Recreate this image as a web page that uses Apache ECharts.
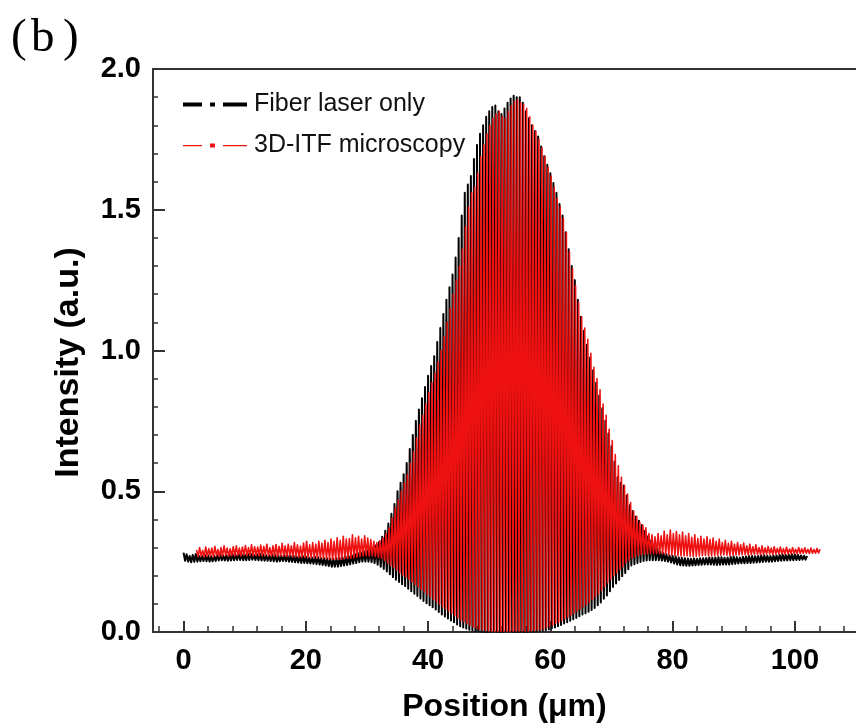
<!DOCTYPE html>
<html><head><meta charset="utf-8">
<script src="https://cdn.jsdelivr.net/npm/echarts@6/dist/echarts.min.js"></script>
<style>html,body{margin:0;padding:0;background:#fff}#c{width:856px;height:728px}</style>
</head><body><div id="c"></div><script>
// ---- data ----
// Fiber laser only: fringe maxima at x = 0, 0.5, ..., 102 µm ; minima halfway between
const blackStart = 0;
const fringePeriod = 0.5;
const blackPeaks = [
 0.282,0.276,0.270,0.274,0.277,0.271,0.270,0.274,0.273,0.269,
 0.270,0.274,0.276,0.272,0.273,0.276,0.277,0.274,0.279,0.276,
 0.275,0.279,0.278,0.274,0.276,0.278,0.275,0.273,0.272,0.275,
 0.274,0.271,0.270,0.273,0.272,0.270,0.270,0.268,0.268,0.270,
 0.268,0.265,0.265,0.267,0.266,0.263,0.262,0.261,0.260,0.259,
 0.262,0.263,0.265,0.268,0.270,0.274,0.278,0.281,0.283,0.286,
 0.290,0.294,0.300,0.308,0.320,0.338,0.360,0.385,0.420,0.455,
 0.500,0.530,0.560,0.600,0.650,0.700,0.750,0.790,0.830,0.870,
 0.910,0.945,0.980,1.030,1.080,1.130,1.180,1.225,1.270,1.330,
 1.400,1.480,1.560,1.590,1.620,1.680,1.730,1.770,1.800,1.830,
 1.850,1.865,1.870,1.850,1.840,1.860,1.880,1.895,1.905,1.900,
 1.900,1.880,1.850,1.825,1.800,1.780,1.760,1.725,1.690,1.660,
 1.630,1.595,1.560,1.520,1.480,1.420,1.360,1.300,1.250,1.180,
 1.120,1.070,1.020,0.975,0.930,0.885,0.840,0.795,0.750,0.705,
 0.660,0.605,0.550,0.530,0.520,0.485,0.450,0.430,0.410,0.395,
 0.380,0.360,0.340,0.325,0.310,0.297,0.285,0.280,0.275,0.272,
 0.270,0.268,0.265,0.264,0.262,0.261,0.260,0.261,0.260,0.262,
 0.262,0.263,0.265,0.264,0.265,0.266,0.266,0.264,0.265,0.267,
 0.268,0.266,0.265,0.267,0.268,0.270,0.270,0.269,0.270,0.272,
 0.272,0.271,0.270,0.272,0.272,0.274,0.275,0.274,0.275,0.276,
 0.275,0.274,0.272,0.271,0.270
];
const blackTroughs = [
 0.253,0.250,0.248,0.249,0.250,0.251,0.252,0.251,0.250,0.251,
 0.252,0.254,0.255,0.254,0.253,0.254,0.255,0.256,0.256,0.255,
 0.255,0.256,0.257,0.256,0.255,0.254,0.253,0.253,0.252,0.251,
 0.250,0.251,0.252,0.251,0.250,0.249,0.248,0.247,0.245,0.245,
 0.244,0.243,0.242,0.241,0.240,0.238,0.236,0.234,0.232,0.232,
 0.232,0.234,0.236,0.238,0.240,0.243,0.245,0.248,0.250,0.250,
 0.250,0.248,0.245,0.239,0.232,0.224,0.215,0.205,0.195,0.186,
 0.178,0.170,0.163,0.154,0.145,0.136,0.128,0.119,0.110,0.102,
 0.095,0.088,0.080,0.071,0.062,0.055,0.048,0.041,0.035,0.027,
 0.020,0.016,0.012,0.008,0.005,0.003,0.002,0.001,0.000,0.000,
 0.000,0.001,0.001,0.000,0.000,0.002,0.002,0.001,0.000,0.000,
 0.001,0.000,0.000,0.001,0.002,0.002,0.003,0.004,0.006,0.009,
 0.013,0.016,0.020,0.025,0.030,0.035,0.040,0.045,0.050,0.056,
 0.062,0.067,0.072,0.078,0.085,0.095,0.105,0.118,0.130,0.145,
 0.160,0.172,0.185,0.198,0.210,0.223,0.236,0.241,0.245,0.249,
 0.252,0.254,0.255,0.255,0.255,0.255,0.254,0.252,0.250,0.247,
 0.243,0.240,0.237,0.236,0.235,0.235,0.236,0.237,0.238,0.239,
 0.240,0.240,0.240,0.239,0.238,0.239,0.240,0.240,0.240,0.241,
 0.242,0.243,0.244,0.244,0.245,0.245,0.246,0.247,0.248,0.249,
 0.250,0.250,0.250,0.251,0.252,0.253,0.254,0.254,0.255,0.255,
 0.256,0.256,0.257,0.257
];
// 3D-ITF microscopy: fringe maxima at x = 2.125, 2.625, ..., 104.125 µm ; minima halfway between
const redStart = 2.125;
const redPeaks = [
 0.292,0.300,0.290,0.302,0.296,0.298,0.304,0.293,0.300,0.306,
 0.298,0.296,0.303,0.306,0.298,0.302,0.307,0.300,0.310,0.303,
 0.302,0.309,0.304,0.312,0.300,0.306,0.311,0.304,0.315,0.306,
 0.312,0.306,0.318,0.310,0.305,0.316,0.322,0.310,0.318,0.312,
 0.322,0.315,0.326,0.318,0.330,0.322,0.335,0.326,0.340,0.330,
 0.332,0.345,0.335,0.340,0.330,0.342,0.334,0.328,0.322,0.318,
 0.325,0.335,0.350,0.370,0.405,0.440,0.470,0.500,0.530,0.560,
 0.600,0.640,0.690,0.735,0.770,0.810,0.850,0.885,0.920,0.960,
 1.000,1.050,1.100,1.150,1.200,1.250,1.300,1.360,1.440,1.510,
 1.560,1.580,1.630,1.690,1.730,1.770,1.800,1.825,1.840,1.850,
 1.830,1.825,1.850,1.870,1.885,1.890,1.880,1.875,1.860,1.830,
 1.800,1.780,1.750,1.720,1.690,1.650,1.620,1.580,1.540,1.510,
 1.470,1.420,1.350,1.290,1.230,1.170,1.120,1.080,1.040,0.990,
 0.940,0.900,0.860,0.810,0.770,0.720,0.680,0.630,0.590,0.550,
 0.520,0.490,0.460,0.430,0.410,0.390,0.380,0.370,0.350,0.345,
 0.338,0.350,0.342,0.358,0.345,0.362,0.350,0.357,0.345,0.355,
 0.342,0.350,0.336,0.345,0.332,0.340,0.330,0.338,0.328,0.334,
 0.322,0.330,0.318,0.326,0.315,0.322,0.312,0.318,0.310,0.316,
 0.306,0.312,0.303,0.310,0.300,0.306,0.299,0.304,0.298,0.303,
 0.297,0.302,0.296,0.301,0.295,0.300,0.294,0.300,0.296,0.299,
 0.294,0.298,0.293,0.297,0.294
];
const redTroughs = [
 0.268,0.270,0.266,0.269,0.270,0.267,0.271,0.268,0.270,0.272,
 0.269,0.271,0.270,0.272,0.270,0.273,0.271,0.272,0.270,0.272,
 0.271,0.270,0.272,0.271,0.269,0.270,0.268,0.270,0.269,0.268,
 0.270,0.267,0.268,0.266,0.266,0.265,0.265,0.264,0.264,0.263,
 0.262,0.262,0.260,0.259,0.258,0.258,0.258,0.259,0.260,0.261,
 0.262,0.264,0.266,0.268,0.270,0.271,0.270,0.270,0.268,0.266,
 0.262,0.254,0.245,0.236,0.228,0.219,0.210,0.203,0.195,0.186,
 0.178,0.169,0.160,0.151,0.142,0.133,0.125,0.116,0.108,0.099,
 0.090,0.082,0.075,0.066,0.058,0.050,0.042,0.036,0.030,0.024,
 0.018,0.014,0.010,0.007,0.005,0.004,0.003,0.002,0.002,0.002,
 0.003,0.002,0.002,0.003,0.003,0.004,0.004,0.003,0.003,0.004,
 0.005,0.006,0.008,0.011,0.015,0.020,0.025,0.030,0.035,0.041,
 0.047,0.053,0.060,0.067,0.075,0.082,0.090,0.097,0.105,0.115,
 0.125,0.136,0.148,0.161,0.175,0.188,0.200,0.211,0.222,0.233,
 0.245,0.254,0.262,0.267,0.272,0.274,0.276,0.277,0.278,0.278,
 0.278,0.278,0.278,0.277,0.275,0.274,0.272,0.271,0.270,0.270,
 0.270,0.269,0.268,0.269,0.270,0.271,0.272,0.271,0.270,0.271,
 0.272,0.273,0.274,0.273,0.272,0.273,0.274,0.274,0.275,0.275,
 0.274,0.275,0.276,0.276,0.275,0.276,0.277,0.277,0.276,0.277,
 0.278,0.278,0.277,0.278,0.279,0.279,0.278,0.279,0.280,0.280,
 0.279,0.280,0.280,0.281
];
const seriesNames = ['Fiber laser only', '3D-ITF microscopy'];
const xMajorTicks = [0, 20, 40, 60, 80, 100];
const xMinorTicks = [-4,4,8,12,16,24,28,32,36,44,48,52,56,64,68,72,76,84,88,92,96,104,108];
const xRange = [-5, 110];
const yRange = [0, 2];
const yStep = 0.5;

// ---- build point tables (max, min, max, ...) ----
function interleave(start, period, peaks, troughs) {
  const out = [];
  for (let i = 0; i < peaks.length; i++) {
    out.push([start + i * period, peaks[i]]);
    if (i < troughs.length) out.push([start + i * period + period / 2, troughs[i]]);
  }
  return out;
}
const blackData = interleave(blackStart, fringePeriod, blackPeaks, blackTroughs);
const redData = interleave(redStart, fringePeriod, redPeaks, redTroughs);

const FONT = '"Liberation Sans", Arial, Helvetica, sans-serif';
const SERIF = '"Liberation Serif", "Times New Roman", serif';
const AX = '#333';
const BLACK = '#000000';
const RED = '#ee1111';

const chart = echarts.init(document.getElementById('c'), null, {renderer: 'canvas'});
chart.setOption({
  animation: false,
  backgroundColor: '#fff',
  grid: {left: 153, top: 69, right: -1, bottom: 91},
  legend: {
    orient: 'vertical', left: 178, top: 87,
    itemWidth: 64, itemHeight: 4, itemGap: 16,
    itemStyle: {borderWidth: 0},
    textStyle: {fontFamily: FONT, fontSize: 25, color: '#111', padding: [0, 0, 0, 2]},
    data: [
      {name: seriesNames[0], icon: 'path://M0,0h19v4h-19z M27,0h5v4h-5z M40,0h24v4h-24z',
       itemStyle: {color: BLACK, borderColor: BLACK, borderWidth: 0}},
      {name: seriesNames[1], icon: 'path://M0,1.5h19v1.2h-19z M27,0h5v4h-5z M40,1.5h24v1.2h-24z',
       itemStyle: {color: RED, borderColor: RED, borderWidth: 0}}
    ]
  },
  graphic: [
    {type: 'text', left: 11, top: 15, style: {text: '(', font: '47px ' + SERIF, fill: '#000'}},
    {type: 'text', left: 31, top: 15, style: {text: 'b', font: '47px ' + SERIF, fill: '#000'}},
    {type: 'text', left: 63, top: 15, style: {text: ')', font: '47px ' + SERIF, fill: '#000'}}
  ],
  xAxis: [
    {
      type: 'value', position: 'bottom', min: xRange[0], max: xRange[1],
      axisLine: {onZero: false, lineStyle: {color: AX, width: 2}},
      axisTick: {inside: true, length: 11, customValues: xMajorTicks, lineStyle: {color: AX, width: 2}},
      axisLabel: {customValues: xMajorTicks, margin: 14, fontSize: 29, fontWeight: 'bold', color: '#000', fontFamily: FONT},
      splitLine: {show: false},
      name: 'Position (\u03bcm)', nameLocation: 'middle', nameGap: 59,
      nameTextStyle: {fontSize: 32, fontWeight: 'bold', color: '#000', fontFamily: FONT}
    },
    {
      type: 'value', position: 'bottom', min: xRange[0], max: xRange[1],
      axisLine: {show: false, onZero: false},
      axisTick: {inside: true, length: 6, customValues: xMinorTicks, lineStyle: {color: AX, width: 1.5}},
      axisLabel: {show: false}, splitLine: {show: false}
    },
    {
      type: 'value', position: 'top', min: xRange[0], max: xRange[1],
      axisLine: {onZero: false, lineStyle: {color: AX, width: 2}},
      axisTick: {show: false}, axisLabel: {show: false}, splitLine: {show: false}
    }
  ],
  yAxis: {
    type: 'value', min: yRange[0], max: yRange[1], interval: yStep,
    axisLine: {show: true, onZero: false, lineStyle: {color: AX, width: 2}},
    axisTick: {show: true, inside: true, length: 12, lineStyle: {color: AX, width: 2}},
    minorTick: {show: true, splitNumber: 5, length: 5, lineStyle: {color: AX, width: 1.5}},
    axisLabel: {formatter: v => v.toFixed(1), margin: 12, fontSize: 29, fontWeight: 'bold', color: '#000', fontFamily: FONT},
    splitLine: {show: false},
    name: 'Intensity (a.u.)', nameLocation: 'middle', nameGap: 67,
    nameTextStyle: {fontSize: 34, fontWeight: 'bold', color: '#000', fontFamily: FONT, padding: [0, 24, 0, 0]}
  },
  series: [
    {
      name: seriesNames[0], type: 'line', xAxisIndex: 0, yAxisIndex: 0,
      data: blackData, symbol: 'none', showSymbol: false, sampling: null,
      lineStyle: {color: BLACK, width: 2, join: 'round'}, itemStyle: {color: BLACK}, z: 2
    },
    {
      name: seriesNames[1], type: 'line', xAxisIndex: 0, yAxisIndex: 0,
      data: redData, symbol: 'none', showSymbol: false, sampling: null,
      lineStyle: {color: RED, width: 1.6, join: 'round'}, itemStyle: {color: RED}, z: 3
    }
  ]
});
</script></body></html>
